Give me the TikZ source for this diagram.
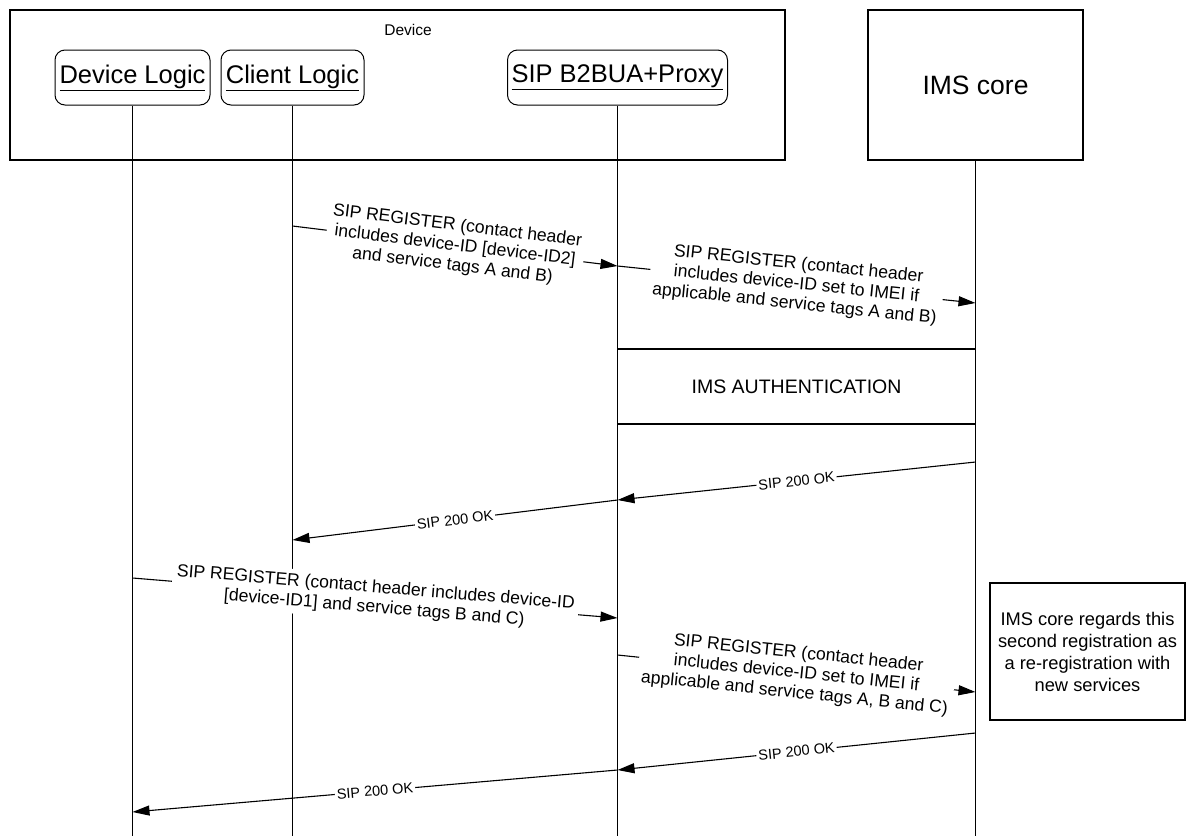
\documentclass[tikz,border=0pt]{standalone}
\usepackage{fontspec}
\setmainfont{Liberation Sans}
\usetikzlibrary{arrows.meta}
\begin{document}
\begin{tikzpicture}[x=1pt,y=-1pt,
  box/.style={draw, line width=1.2pt, inner sep=0pt},
  head/.style={draw, rounded corners=10pt, line width=1pt, minimum height=55pt, inner sep=0pt, font=\fontsize{25.5}{30}\selectfont},
  life/.style={line width=1.2pt},
  msg/.style={line width=1.1pt, -{Triangle[length=17pt,width=10pt]}},
  lbl/.style={sloped, fill=white, align=center, inner sep=4pt, font=\fontsize{17.6}{20}\selectfont},
  ok/.style={sloped, fill=white, inner sep=2pt, font=\fontsize{14.5}{17}\selectfont}]
\useasboundingbox (0,0) rectangle (1198,836);
% boxes
\node[box, minimum width=775pt, minimum height=150pt] (dev) at (397.5,85) {};
\node[font=\fontsize{15.5}{18}\selectfont] (devlbl) at (408,30) {Device};
\node[head, minimum width=155pt] (dl) at (132.5,77.5) {\underline{Device Logic}};
\node[head, minimum width=143pt] (cl) at (292.5,77.5) {\underline{Client Logic}};
\node[head, minimum width=220pt] (sip) at (617.5,77.5) {\underline{SIP B2BUA+Proxy}};
\node[box, minimum width=215pt, minimum height=150pt, font=\fontsize{26.5}{30}\selectfont] (ims) at (975.5,85) {IMS core};
% lifelines
\coordinate (dlend) at (132.5,836);
\coordinate (clend) at (292.5,836);
\coordinate (sipend) at (617.5,836);
\coordinate (imsend) at (975.5,836);
\draw[life] (dl.south) -- (dlend);
\draw[life] (cl.south) -- (clend);
\draw[life] (sip.south) -- (sipend);
\draw[life] (ims.south) -- (imsend);
% points on lifelines
\coordinate (c1) at (292.5,226);
\coordinate (s1) at (617.5,266);
\coordinate (s2) at (617.5,266);
\coordinate (i2) at (975.5,303);
\coordinate (i3) at (975.5,462);
\coordinate (s3) at (617.5,500);
\coordinate (c4) at (292.5,540);
\coordinate (d5) at (132.5,578);
\coordinate (s5) at (617.5,618);
\coordinate (s6) at (617.5,655);
\coordinate (i6) at (975.5,692);
\coordinate (i7) at (975.5,733);
\coordinate (s7) at (617.5,770);
\coordinate (d8) at (132.5,812);
% messages
\draw[msg] (c1) -- node[lbl] {SIP REGISTER (contact header\\includes device-ID [device-ID2]\\and service tags A and B)} (s1);
\draw[msg] (s2) -- node[lbl] {SIP REGISTER (contact header\\includes device-ID set to IMEI if\\applicable and service tags A and B)} (i2);
\node[box, fill=white, minimum width=358pt, minimum height=75pt, font=\fontsize{19.5}{22}\selectfont] (auth) at (796.5,386.5) {IMS AUTHENTICATION};
\draw[msg] (i3) -- node[ok] {SIP 200 OK} (s3);
\draw[msg] (s3) -- node[ok] {SIP 200 OK} (c4);
\draw[msg] (d5) -- node[lbl] {SIP REGISTER (contact header includes device-ID\\{}{[device-ID1]} and service tags B and C)} (s5);
\draw[msg] (s6) -- node[lbl] {SIP REGISTER (contact header\\includes device-ID set to IMEI if\\applicable and service tags A, B and C)} (i6);
\draw[msg] (i7) -- node[ok] {SIP 200 OK} (s7);
\draw[msg] (s7) -- node[ok] {SIP 200 OK} (d8);
\node[box, align=center, minimum width=195pt, minimum height=137pt, font=\fontsize{18.3}{22}\selectfont] (note) at (1087.5,651.5) {IMS core regards this\\second registration as\\a re-registration with\\new services};
\end{tikzpicture}
\end{document}
